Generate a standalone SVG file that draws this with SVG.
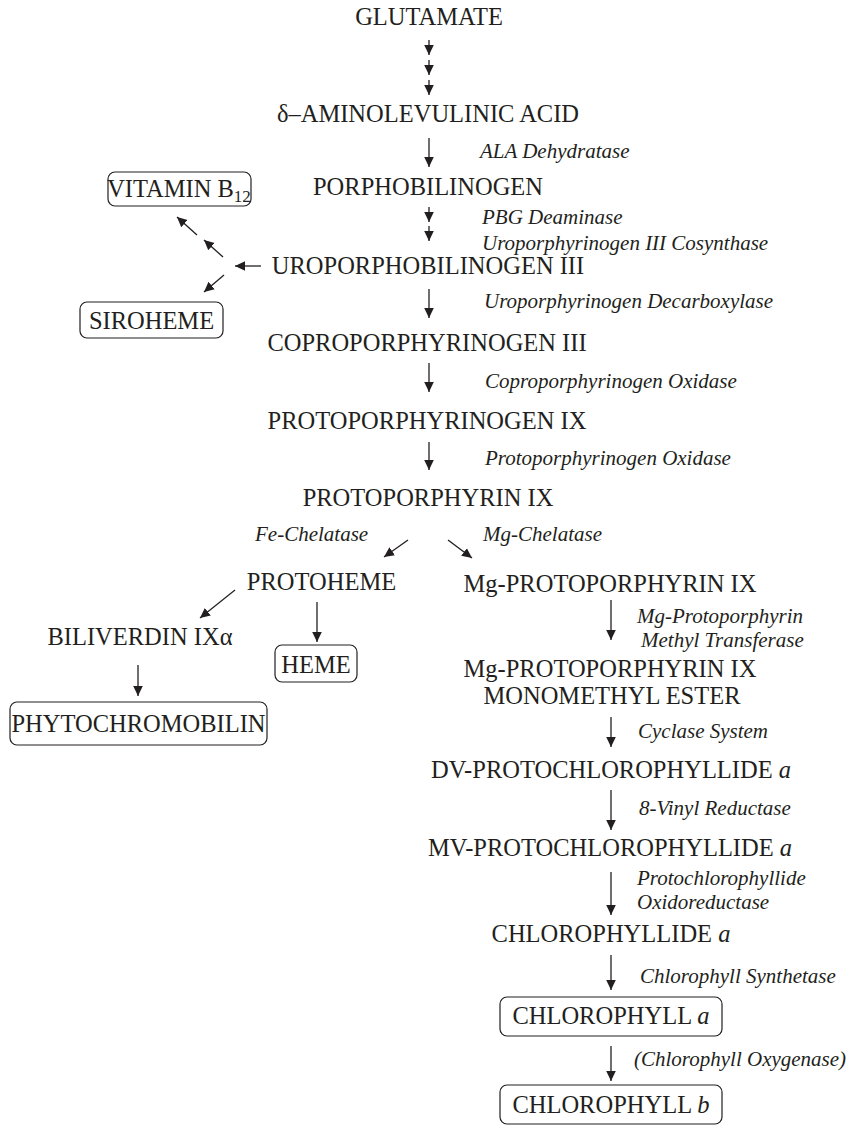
<svg xmlns="http://www.w3.org/2000/svg" width="855" height="1126" viewBox="0 0 855 1126">
<defs>
<marker id="ah" markerUnits="userSpaceOnUse" markerWidth="10" markerHeight="12" viewBox="0 0 10 12" refX="10" refY="6" orient="auto">
<path d="M0,1.2 L10,6 L0,10.8 Z" fill="#231f20"/>
</marker>
</defs>
<style>
.t{font-family:"Liberation Serif","Times New Roman",serif;font-size:24.5px;fill:#231f20}
.e{font-family:"Liberation Serif","Times New Roman",serif;font-size:21px;font-style:italic;fill:#231f20}
.c{stroke:#231f20;stroke-width:1.3;fill:none;marker-end:url(#ah)}
.b{fill:none;stroke:#231f20;stroke-width:1.2}
</style>
<rect width="855" height="1126" fill="#fff"/>
<g id="connectors">
<line class="c" x1="429" y1="40" x2="429" y2="55"/>
<line class="c" x1="429" y1="60" x2="429" y2="75"/>
<line class="c" x1="429" y1="80" x2="429" y2="95"/>
<line class="c" x1="429" y1="138" x2="429" y2="167"/>
<line class="c" x1="429" y1="207" x2="429" y2="222"/>
<line class="c" x1="429" y1="226" x2="429" y2="241"/>
<line class="c" x1="261" y1="266" x2="235" y2="266"/>
<line class="c" x1="223" y1="257" x2="204" y2="240"/>
<line class="c" x1="197" y1="235" x2="177" y2="217"/>
<line class="c" x1="224" y1="275" x2="204" y2="292"/>
<line class="c" x1="429" y1="289" x2="429" y2="318"/>
<line class="c" x1="429" y1="363" x2="429" y2="392"/>
<line class="c" x1="429" y1="442" x2="429" y2="470"/>
<line class="c" x1="408" y1="540" x2="384" y2="557"/>
<line class="c" x1="448" y1="540" x2="472" y2="558"/>
<line class="c" x1="235" y1="590" x2="200" y2="618"/>
<line class="c" x1="317" y1="602" x2="317" y2="642"/>
<line class="c" x1="138" y1="665" x2="138" y2="696"/>
<line class="c" x1="611" y1="600" x2="611" y2="640"/>
<line class="c" x1="611" y1="717" x2="611" y2="747"/>
<line class="c" x1="611" y1="790" x2="611" y2="830"/>
<line class="c" x1="611" y1="872" x2="611" y2="915"/>
<line class="c" x1="611" y1="955" x2="611" y2="990"/>
<line class="c" x1="611" y1="1046" x2="611" y2="1081"/>
</g>
<g id="glutamate"><text class="t" x="429" y="25" text-anchor="middle">GLUTAMATE</text></g>
<g id="ala"><text class="t" x="428" y="122" text-anchor="middle">δ–AMINOLEVULINIC ACID</text></g>
<g id="e-ala"><text class="e" x="480" y="158">ALA Dehydratase</text></g>
<g id="pbg"><text class="t" x="428" y="195" text-anchor="middle">PORPHOBILINOGEN</text></g>
<g id="e-pbg"><text class="e" x="482" y="224">PBG Deaminase<tspan x="482" dy="26">Uroporphyrinogen III Cosynthase</tspan></text></g>
<g id="uro"><text class="t" x="428" y="274" text-anchor="middle">UROPORPHOBILINOGEN III</text></g>
<g id="b12"><rect class="b" x="108" y="172" width="143" height="34" rx="7"/><text class="t" x="179" y="197" text-anchor="middle">VITAMIN B<tspan font-size="17" dy="5">12</tspan></text></g>
<g id="siroheme"><rect class="b" x="80" y="302" width="143" height="36" rx="7"/><text class="t" x="151.5" y="329" text-anchor="middle">SIROHEME</text></g>
<g id="e-urod"><text class="e" x="484" y="308">Uroporphyrinogen Decarboxylase</text></g>
<g id="copro"><text class="t" x="427" y="351" text-anchor="middle">COPROPORPHYRINOGEN III</text></g>
<g id="e-copro"><text class="e" x="485" y="388">Coproporphyrinogen Oxidase</text></g>
<g id="protogen"><text class="t" x="427" y="429" text-anchor="middle">PROTOPORPHYRINOGEN IX</text></g>
<g id="e-protogen"><text class="e" x="485" y="465">Protoporphyrinogen Oxidase</text></g>
<g id="protoporphyrin"><text class="t" x="428" y="506" text-anchor="middle">PROTOPORPHYRIN IX</text></g>
<g id="e-fe"><text class="e" x="255" y="541">Fe-Chelatase</text></g>
<g id="e-mg"><text class="e" x="483" y="541">Mg-Chelatase</text></g>
<g id="protoheme"><text class="t" x="321.5" y="590" text-anchor="middle">PROTOHEME</text></g>
<g id="mgproto"><text class="t" x="610" y="592" text-anchor="middle">Mg-PROTOPORPHYRIN IX</text></g>
<g id="biliverdin"><text class="t" x="140" y="645" text-anchor="middle">BILIVERDIN IXα</text></g>
<g id="heme"><rect class="b" x="275" y="645" width="82" height="37" rx="7"/><text class="t" x="316" y="673" text-anchor="middle">HEME</text></g>
<g id="phyto"><rect class="b" x="10" y="702" width="257" height="43" rx="7"/><text class="t" x="138.5" y="732" text-anchor="middle">PHYTOCHROMOBILIN</text></g>
<g id="e-mt"><text class="e" x="637" y="623">Mg-Protoporphyrin<tspan x="641" dy="24">Methyl Transferase</tspan></text></g>
<g id="mgme"><text class="t" x="610" y="677" text-anchor="middle">Mg-PROTOPORPHYRIN IX<tspan x="612" dy="27">MONOMETHYL ESTER</tspan></text></g>
<g id="e-cyc"><text class="e" x="638" y="738">Cyclase System</text></g>
<g id="dv"><text class="t" x="611" y="778" text-anchor="middle">DV-PROTOCHLOROPHYLLIDE <tspan font-style="italic">a</tspan></text></g>
<g id="e-8v"><text class="e" x="639" y="815">8-Vinyl Reductase</text></g>
<g id="mv"><text class="t" x="610" y="856" text-anchor="middle">MV-PROTOCHLOROPHYLLIDE <tspan font-style="italic">a</tspan></text></g>
<g id="e-por"><text class="e" x="637" y="885">Protochlorophyllide<tspan x="637" dy="24">Oxidoreductase</tspan></text></g>
<g id="chlide"><text class="t" x="611" y="942" text-anchor="middle">CHLOROPHYLLIDE <tspan font-style="italic">a</tspan></text></g>
<g id="e-syn"><text class="e" x="640" y="983">Chlorophyll Synthetase</text></g>
<g id="chla"><rect class="b" x="500" y="997" width="222" height="39" rx="7"/><text class="t" x="611" y="1024" text-anchor="middle">CHLOROPHYLL <tspan font-style="italic">a</tspan></text></g>
<g id="e-oxy"><text class="e" x="634" y="1066">(Chlorophyll Oxygenase)</text></g>
<g id="chlb"><rect class="b" x="500" y="1085" width="222" height="39" rx="7"/><text class="t" x="611" y="1113" text-anchor="middle">CHLOROPHYLL <tspan font-style="italic">b</tspan></text></g>
</svg>
